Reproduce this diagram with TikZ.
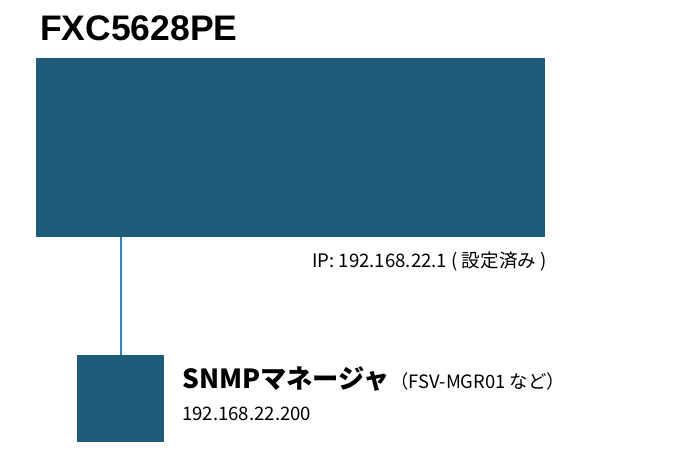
\documentclass[tikz,border=0pt]{standalone}
\usepackage{fontspec}
\setmainfont{Liberation Sans}
\newfontfamily\jpfont{Noto Sans CJK JP}
\definecolor{boxblue}{HTML}{1F5C7A}
\definecolor{linkblue}{HTML}{2E86C8}
\begin{document}
\begin{tikzpicture}[x=1pt,y=-1pt,
  devbox/.style={fill=boxblue,draw=none,inner sep=0pt,outer sep=0pt},
  link/.style={draw=linkblue,line width=1.4pt},
  lbl/.style={inner sep=0pt,anchor=base west}]
\useasboundingbox (0,0) rectangle (700,453);
\node[devbox,minimum width=509pt,minimum height=179pt,anchor=north west] (sw) at (36,58) {};
\node[devbox,minimum width=87pt,minimum height=87pt,anchor=north west] (mgr) at (77,355) {};
\coordinate (swp) at (121,237);
\draw[link] (swp) -- (swp |- mgr.north);
\node[lbl,font=\fontsize{35.5}{35.5}\selectfont\bfseries] (title) at (40,40) {FXC5628PE};
\node[lbl,font=\jpfont\fontsize{18.6}{18.6}\selectfont] (ip) at (312,267) {IP: 192.168.22.1 ( 設定済み )};
\node[lbl,font=\jpfont\fontsize{26.3}{26.3}\selectfont\bfseries] (mname) at (182,388) {SNMPマネージャ};
\node[lbl,font=\jpfont\fontsize{18.4}{18.4}\selectfont] (mnote) at (mname.base east) {（FSV-MGR01 など）};
\node[lbl,font=\jpfont\fontsize{18.6}{18.6}\selectfont] (mip) at (182,420) {192.168.22.200};
\end{tikzpicture}
\end{document}
